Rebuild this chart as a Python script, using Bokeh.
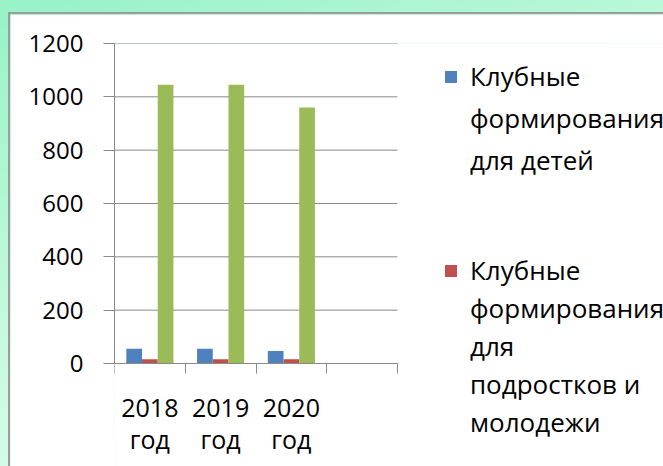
from bokeh.plotting import figure
from bokeh.models import (Range1d, LinearAxis, FixedTicker, Legend, LegendItem,
                          ColumnDataSource, Spacer)
from bokeh.layouts import column
from bokeh.transform import dodge
from bokeh.embed import file_html
from bokeh.resources import INLINE

# ---- data ----
categories = ["2018 год", "2019 год", "2020 год", ""]   # 4th slot is empty in the original
years = ["2018 год", "2019 год", "2020 год"]
children = [55, 55, 47]
youth = [16, 16, 16]
third = [1045, 1045, 960]
y_ticks = [0, 200, 400, 600, 800, 1000, 1200]
legend1_lines = ["Клубные", "формирования", "для детей"]
legend2_lines = ["Клубные", "формирования", "для", "подростков и", "молодежи"]

BLUE = "#4F81BD"
RED = "#C0504D"
GREEN = "#9BBB59"
GRAY = "#8a8a8a"
FONT = "Open Sans"

# ---- layout (pixels) ----
W, H = 660, 460
LEFT, TOP = 104, 29
AXIS_W, AXIS_H = 283, 320          # pixel size of the category / value axes
frame_w, frame_h = W - LEFT, H - TOP
ymax = y_ticks[-1]
x_end = len(categories) * frame_w / AXIS_W
y_start = -ymax * (frame_h - AXIS_H) / AXIS_H

centers = [i + 0.5 for i in range(len(years))]
src = ColumnDataSource(dict(pos=centers, children=children, youth=youth, third=third))

p = figure(x_range=Range1d(0, x_end), y_range=Range1d(y_start, ymax),
           width=W, height=H, output_backend="svg", toolbar_location=None,
           x_axis_location=None, y_axis_location=None,
           min_border_left=LEFT, min_border_right=0, min_border_top=TOP, min_border_bottom=0,
           outline_line_color=None, background_fill_color="white", border_fill_color="white")
p.styles = {"border-left": "2px solid #9c9c9c", "border-top": "2px solid #9c9c9c"}
for g in p.grid:
    g.visible = False

# horizontal gridlines over the category span only
p.segment(x0=0, x1=len(categories), y0=y_ticks, y1=y_ticks, line_color=GRAY, line_width=1)

yaxis = LinearAxis(ticker=FixedTicker(ticks=y_ticks), bounds=(0, ymax),
                   major_tick_out=11, major_tick_in=0,
                   minor_tick_line_color=None, axis_line_color=GRAY, major_tick_line_color=GRAY,
                   major_label_text_font=FONT, major_label_text_font_size="24px",
                   major_label_text_color="black", major_label_standoff=20)
p.add_layout(yaxis, "left")

bounds = list(range(len(categories) + 1))
xticks_axis = LinearAxis(ticker=FixedTicker(ticks=bounds), fixed_location=0,
                         bounds=(0, len(categories)),
                         major_tick_out=10, major_tick_in=0, minor_tick_line_color=None,
                         major_label_overrides={b: "" for b in bounds}, major_label_standoff=0,
                         axis_line_color=GRAY, major_tick_line_color=GRAY)
p.add_layout(xticks_axis, "below")

xlabels = LinearAxis(ticker=FixedTicker(ticks=centers), fixed_location=0,
                     major_tick_line_color=None, minor_tick_line_color=None,
                     axis_line_color=None, major_tick_out=0, major_tick_in=0,
                     major_label_text_font=FONT, major_label_text_font_size="25px",
                     major_label_text_color="black", major_label_standoff=26,
                     major_label_text_line_height=0.95,
                     major_label_overrides={c: y.replace(" ", "\n") for c, y in zip(centers, years)})
p.add_layout(xlabels, "below")

w = 0.222
r1 = p.vbar(x=dodge("pos", -w), top="children", width=w, source=src,
            fill_color=BLUE, line_color=None)
r2 = p.vbar(x=dodge("pos", 0), top="youth", width=w, source=src,
            fill_color=RED, line_color=None)
r3 = p.vbar(x=dodge("pos", w), top="third", width=w, source=src,
            fill_color=GREEN, line_color=None)
ghost = p.scatter(x=[], y=[], alpha=0)

# one legend per visible series, one line per item (Excel wraps the long series names)
def make_legend(lines, renderer, loc, spacing):
    items = [LegendItem(label=lines[0], renderers=[renderer])]
    items += [LegendItem(label=t, renderers=[ghost]) for t in lines[1:]]
    return Legend(items=items, location=loc, orientation="vertical",
                  border_line_color=None, background_fill_alpha=0, padding=0, margin=0,
                  spacing=spacing, glyph_width=15, glyph_height=15, label_standoff=12,
                  label_text_font=FONT, label_text_font_size="26px", label_text_color="black")

p.add_layout(make_legend(legend1_lines, r1, (329, 296), 6))
p.add_layout(make_legend(legend2_lines, r2, (329, 34), 2))

layout = column(Spacer(height=4), p)
html = file_html(layout, INLINE, title="chart")
style = ("<style>html,body{overflow:hidden;}body{margin:8px;width:700px;"
         "background:linear-gradient(160deg,#96f2c6 0%,#c8fadf 50%,#eafef4 100%) fixed;}</style>")
html = html.replace("</head>", style + "</head>", 1)
open("out.html", "w").write(html)
